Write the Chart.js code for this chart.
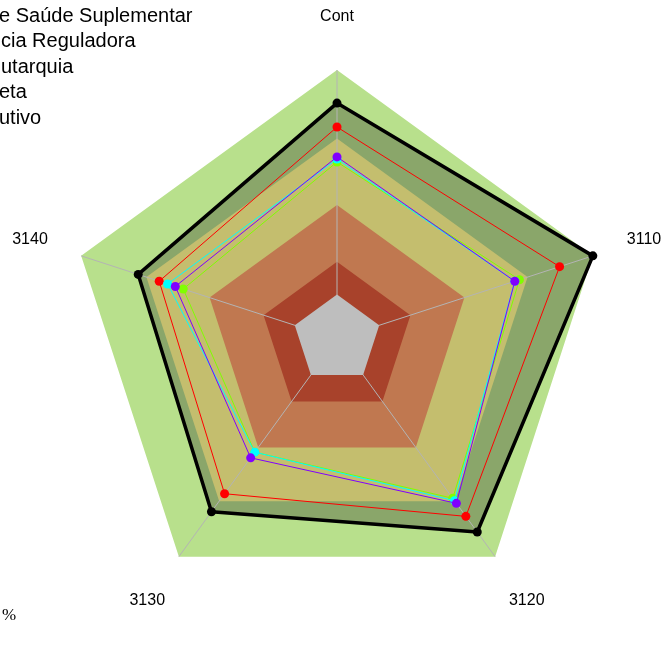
<!DOCTYPE html>
<html>
<head>
<meta charset="utf-8">
<script src="https://cdn.jsdelivr.net/npm/chart.js@4.4.0/dist/chart.umd.min.js"></script>
<style>
  html, body { margin: 0; padding: 0; background: #fff; }
  canvas { display: block; }
</style>
</head>
<body>
<canvas id="radarChart" width="664" height="666"></canvas>
<script>
const axes = ["Cont", "3110", "3120", "3130", "3140"];
const legendLabels = ["e Saúde Suplementar", "cia Reguladora", "utarquia", "eta", "utivo"];

// values in % of the outer ring
const black = [87.7, 100, 88.7, 79.4, 77.7];
const red = [78.8, 87.0, 81.5, 71.1, 69.5];
const green = [65.8, 71.3, 73.2, 52.0, 60.1];
const cyan = [66.9, 69.5, 74.3, 52.0, 66.2];
const purple = [67.7, 69.5, 75.5, 54.6, 63.2];

// background rings, inner to outer
const bandLevels = [16.5, 28.7, 49.8, 74.5, 100];
const bandColors = ["#BEBEBE", "#A8422B", "#C07850", "#C4BE6E", "#B8E08C"];

function ring(level, color, order) {
  return {
    label: "band" + level,
    data: axes.map(() => level),
    backgroundColor: color,
    borderWidth: 0,
    pointRadius: 0,
    fill: "origin",
    order: order,
  };
}

function series(label, data, color, width, order) {
  return {
    label: label,
    data: data,
    borderColor: color,
    borderWidth: width,
    borderJoinStyle: "round",
    pointRadius: 4.5,
    pointBorderWidth: 0,
    pointBackgroundColor: color,
    fill: false,
    order: order,
  };
}

const datasets = [
  series("purple", purple, "#8000FF", 1, 1),
  series("cyan", cyan, "#00FFFF", 1, 2),
  series("green", green, "#80FF00", 1, 3),
  series("red", red, "#FF0000", 1, 4),
  series("black", black, "#000000", 3.5, 5),
  ring(bandLevels[0], bandColors[0], 10),
  ring(bandLevels[1], bandColors[1], 11),
  ring(bandLevels[2], bandColors[2], 12),
  ring(bandLevels[3], bandColors[3], 13),
  // olive fill under the black series
  {
    label: "blackFill",
    data: black,
    backgroundColor: "#8AA66A",
    borderWidth: 0,
    pointRadius: 0,
    fill: "origin",
    order: 14,
  },
  ring(bandLevels[4], bandColors[4], 15),
];

// spokes go on after the dark red ring, so the grey centre covers them
const spokeAfter = datasets.findIndex((d) => d.order === 11);

const spokes = {
  id: "spokes",
  afterDatasetDraw(chart, args) {
    if (args.index !== spokeAfter) return;
    const s = chart.scales.r;
    const ctx = chart.ctx;
    ctx.save();
    ctx.strokeStyle = "#B4B4B4";
    ctx.lineWidth = 1;
    for (let i = 0; i < axes.length; i++) {
      const p = s.getPointPosition(i, s.drawingArea);
      ctx.beginPath();
      ctx.moveTo(s.xCenter, s.yCenter);
      ctx.lineTo(p.x, p.y);
      ctx.stroke();
    }
    ctx.restore();
  },
};

const legendX = [-1, 1, 1, -1, -1];

const texts = {
  id: "texts",
  afterDraw(chart) {
    const s = chart.scales.r;
    const ctx = chart.ctx;
    ctx.save();
    ctx.fillStyle = "#000";
    ctx.textAlign = "center";
    ctx.textBaseline = "middle";
    ctx.font = "16px 'Liberation Sans', Arial, sans-serif";
    axes.forEach((a, i) => {
      const p = s.getPointPosition(i, s.drawingArea * 1.2);
      ctx.fillText(a, p.x, p.y);
    });
    ctx.textAlign = "left";
    ctx.font = "20px 'Liberation Sans', Arial, sans-serif";
    legendLabels.forEach((t, i) => {
      ctx.fillText(t, legendX[i], 16 + i * 25.5);
    });
    ctx.font = "17px 'Liberation Serif', 'Times New Roman', serif";
    ctx.fillText("%", 2, 616);
    ctx.restore();
  },
};

new Chart(document.getElementById("radarChart"), {
  type: "radar",
  data: { labels: axes, datasets: datasets },
  options: {
    responsive: false,
    animation: false,
    devicePixelRatio: 1,
    layout: { padding: { left: 68, right: 58, top: 70, bottom: 58 } },
    plugins: { legend: { display: false }, tooltip: { enabled: false } },
    scales: {
      r: {
        min: 0,
        max: 100,
        ticks: { display: false },
        grid: { display: false },
        angleLines: { display: false },
        pointLabels: { display: false },
      },
    },
  },
  plugins: [spokes, texts],
});
</script>
</body>
</html>
